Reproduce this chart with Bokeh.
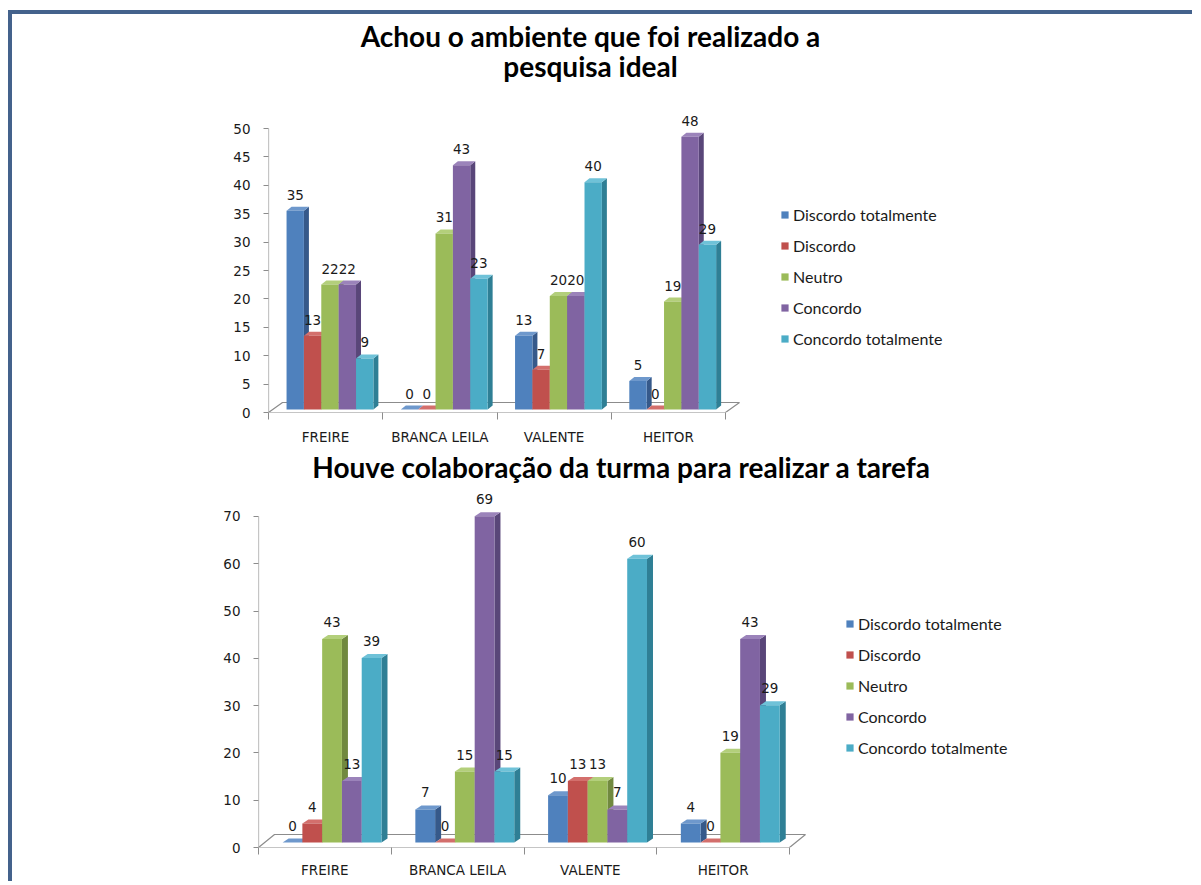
from bokeh.plotting import figure
from bokeh.models import FixedTicker, Legend, LegendItem, Range1d, Spacer
from bokeh.layouts import column, row
from bokeh.core.properties import value
from bokeh.embed import file_html
from bokeh.resources import INLINE

# ---------------- data ----------------
categories = ["FREIRE", "BRANCA LEILA", "VALENTE", "HEITOR"]
series_names = ["Discordo totalmente", "Discordo", "Neutro", "Concordo", "Concordo totalmente"]

# Chart 1: "Achou o ambiente que foi realizado a pesquisa ideal"
c1_discordo_totalmente = [35, 0, 13, 5]
c1_discordo = [13, 0, 7, 0]
c1_neutro = [22, 31, 20, 19]
c1_concordo = [22, 43, 20, 48]
c1_concordo_totalmente = [9, 23, 40, 29]

# Chart 2: "Houve colaboração da turma para realizar a tarefa"
c2_discordo_totalmente = [0, 7, 10, 4]
c2_discordo = [4, 0, 13, 0]
c2_neutro = [43, 15, 13, 19]
c2_concordo = [13, 69, 7, 43]
c2_concordo_totalmente = [39, 15, 60, 29]

title_1 = ["Achou o ambiente que foi realizado a", "pesquisa ideal"]
title_2 = ["Houve colaboração da turma para realizar a tarefa"]
yticks_1 = [0, 5, 10, 15, 20, 25, 30, 35, 40, 45, 50]
yticks_2 = [0, 10, 20, 30, 40, 50, 60, 70]

# ---------------- styles ----------------
front_colors = ["#4F81BD", "#C0504D", "#9BBB59", "#8064A2", "#4BACC6"]
side_colors = ["#36598A", "#8E3936", "#71893F", "#594679", "#2F7F95"]
top_colors = ["#6E98CC", "#D36F6C", "#B3CF7B", "#9B83BA", "#6FC2D8"]
AXIS_GRAY = "#8C8C8C"
TEXT = "#1A1A1A"
FRAME_BLUE = "#44628C"


def make_chart(values, title_lines, yticks, width, height, left, bottom,
               px_x, px_y, group_center, bar_w, base_px, side_px, floor_px,
               title_x_px, title_mid_px, title_step_px, legend_loc, label_dy, xlabel_standoff):
    fw = width - left
    fh = height - bottom
    p = figure(width=width, height=height,
               x_range=Range1d(0, fw / px_x), y_range=Range1d(0, fh / px_y),
               output_backend="svg", toolbar_location=None,
               min_border_left=left, min_border_right=0,
               min_border_top=0, min_border_bottom=bottom)
    p.frame_align = False
    p.grid.visible = False
    p.outline_line_color = None
    p.background_fill_color = "white"
    p.border_fill_color = "white"

    n = len(categories)
    # y axis
    p.yaxis.ticker = FixedTicker(ticks=yticks)
    p.yaxis.axis_line_color = None
    p.yaxis.major_tick_out = 5
    p.yaxis.major_tick_in = 0
    p.yaxis.major_tick_line_color = AXIS_GRAY
    p.yaxis.minor_tick_line_color = None
    p.yaxis.major_label_standoff = 13
    p.yaxis.major_label_text_font = "DejaVu Sans"
    p.yaxis.major_label_text_font_size = "13.5px"
    p.yaxis.major_label_text_color = TEXT
    # x axis
    centers = [i + 0.5 for i in range(n)]
    p.xaxis.ticker = FixedTicker(ticks=centers, minor_ticks=list(range(n + 1)))
    p.xaxis.major_label_overrides = {c: lab for c, lab in zip(centers, categories)}
    p.xaxis.axis_line_color = None
    p.xaxis.major_tick_line_color = None
    p.xaxis.major_tick_out = 0
    p.xaxis.major_tick_in = 0
    p.xaxis.minor_tick_line_color = AXIS_GRAY
    p.xaxis.minor_tick_out = 7
    p.xaxis.minor_tick_in = 0
    p.xaxis.major_label_standoff = xlabel_standoff
    p.xaxis.major_label_text_font = "DejaVu Sans"
    p.xaxis.major_label_text_font_size = "13.5px"
    p.xaxis.major_label_text_color = TEXT

    # floor and y axis line
    fdx, fdy = floor_px[0] / px_x, floor_px[1] / px_y
    p.patch([0, fdx, n + fdx, n], [0, fdy, fdy, 0], fill_color="white",
            line_color=AXIS_GRAY, line_width=1.2)
    p.segment(x0=[0], y0=[0], x1=[0], y1=[yticks[-1]], line_color=AXIS_GRAY, line_width=1.2)

    sdx, sdy = side_px[0] / px_x, side_px[1] / px_y
    base = base_px / px_y
    fronts = []
    lab_x, lab_y, lab_t = [], [], []
    for si, vals in enumerate(values):
        xc = [g + group_center + (si - 2) * bar_w for g in range(n)]
        lefts = [x - bar_w / 2 for x in xc]
        rights = [x + bar_w / 2 for x in xc]
        tops = [base + v for v in vals]
        side_xs = [[r, r + sdx, r + sdx, r] for r in rights]
        side_ys = [[base, base + sdy, t + sdy, t] for t in tops]
        top_xs = [[l, l + sdx, r + sdx, r] for l, r in zip(lefts, rights)]
        top_ys = [[t, t + sdy, t + sdy, t] for t in tops]
        p.patches(side_xs, side_ys, fill_color=side_colors[si], line_color=None)
        p.patches(top_xs, top_ys, fill_color=top_colors[si], line_color=None)
        r = p.vbar(x=xc, width=bar_w, bottom=base, top=tops,
                   fill_color=front_colors[si], line_color=None)
        fronts.append(r)
        lab_x += xc
        lab_y += tops
        lab_t += [str(v) for v in vals]

    p.text(x=lab_x, y=lab_y, text=lab_t, text_align="center",
           text_baseline="middle", y_offset=-label_dy,
           text_font=value("DejaVu Sans"), text_font_size="13.5px", text_color=TEXT)

    # title
    tx = [title_x_px / px_x] * len(title_lines)
    ty = [(title_mid_px - i * title_step_px) / px_y for i in range(len(title_lines))]
    p.text(x=tx, y=ty, text=title_lines, text_align="center", text_baseline="middle",
           text_font=value("Lato"), text_font_style="bold", text_font_size="28px",
           text_color="black")

    legend = Legend(items=[LegendItem(label=nm, renderers=[fr]) for nm, fr in zip(series_names, fronts)],
                    location=legend_loc, orientation="vertical",
                    glyph_width=9, glyph_height=9, label_standoff=4,
                    label_height=20, spacing=11, padding=0, margin=0,
                    border_line_color=None, background_fill_alpha=0,
                    label_text_font="Lato", label_text_font_size="16px",
                    label_text_color=TEXT)
    p.add_layout(legend)
    return p


values_1 = [c1_discordo_totalmente, c1_discordo, c1_neutro, c1_concordo, c1_concordo_totalmente]
values_2 = [c2_discordo_totalmente, c2_discordo, c2_neutro, c2_concordo, c2_concordo_totalmente]

p1 = make_chart(values_1, title_1, yticks_1, width=1180, height=434, left=256, bottom=36,
                px_x=114.25, px_y=5.68, group_center=0.538, bar_w=0.152, base_px=3,
                side_px=(5, 4), floor_px=(14, 10), title_x_px=322, title_mid_px=377,
                title_step_px=30, legend_loc=(512, 64), label_dy=16, xlabel_standoff=9)
p2 = make_chart(values_2, title_2, yticks_2, width=1180, height=433, left=246, bottom=34,
                px_x=132.75, px_y=4.73, group_center=0.554, bar_w=0.149, base_px=5,
                side_px=(6, 4), floor_px=(16, 13), title_x_px=363, title_mid_px=381,
                title_step_px=27, legend_loc=(587, 90), label_dy=17, xlabel_standoff=7)

inner = column(p1, p2, spacing=0,
               styles={"border-left": "4px solid " + FRAME_BLUE,
                       "border-top": "4px solid " + FRAME_BLUE})
layout = column(Spacer(height=10), row(Spacer(width=8), inner, spacing=0), spacing=0)

open("out.html", "w").write(file_html(layout, INLINE))
